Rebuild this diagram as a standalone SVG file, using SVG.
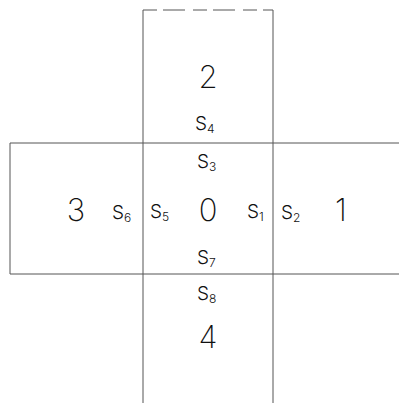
<svg xmlns="http://www.w3.org/2000/svg" width="399" height="403" viewBox="0 0 399 403">
<style>
.ln{stroke:#555;stroke-width:1;fill:none}
.big{font-family:Inter,"DejaVu Sans","Liberation Sans",sans-serif;font-weight:200;font-size:31px;fill:#111;text-anchor:middle}
.s{font-family:Inter,"DejaVu Sans","Liberation Sans",sans-serif;font-weight:300;font-size:19px;fill:#111}
.sub{font-size:12px}
</style>
<rect width="399" height="403" fill="#fff"/>
<g id="lines">
<line class="ln" x1="143" y1="10" x2="273" y2="10" stroke-dasharray="14,6,22,8"/>
<line class="ln" x1="143" y1="10" x2="143" y2="403"/>
<line class="ln" x1="273" y1="10" x2="273" y2="403"/>
<line class="ln" x1="10" y1="143" x2="399" y2="143"/>
<line class="ln" x1="10" y1="274" x2="399" y2="274"/>
<line class="ln" x1="10" y1="143" x2="10" y2="274"/>
</g>
<g id="face2">
<text class="big" x="208" y="88">2</text>
<text class="s" x="195" y="130">S<tspan class="sub" dy="3">4</tspan></text>
</g>
<g id="face0">
<text class="big" x="208" y="221">0</text>
<text class="s" x="197" y="168">S<tspan class="sub" dy="3">3</tspan></text>
<text class="s" x="150" y="218">S<tspan class="sub" dy="3">5</tspan></text>
<text class="s" x="247" y="218">S<tspan class="sub" dy="3">1</tspan></text>
<text class="s" x="197" y="264">S<tspan class="sub" dy="3">7</tspan></text>
</g>
<g id="face3">
<text class="big" x="76" y="221">3</text>
<text class="s" x="112" y="219">S<tspan class="sub" dy="3">6</tspan></text>
</g>
<g id="face1">
<text class="big" x="341" y="221">1</text>
<text class="s" x="281" y="219">S<tspan class="sub" dy="3">2</tspan></text>
</g>
<g id="face4">
<text class="s" x="197" y="300">S<tspan class="sub" dy="3">8</tspan></text>
<text class="big" x="208" y="348">4</text>
</g>
</svg>
